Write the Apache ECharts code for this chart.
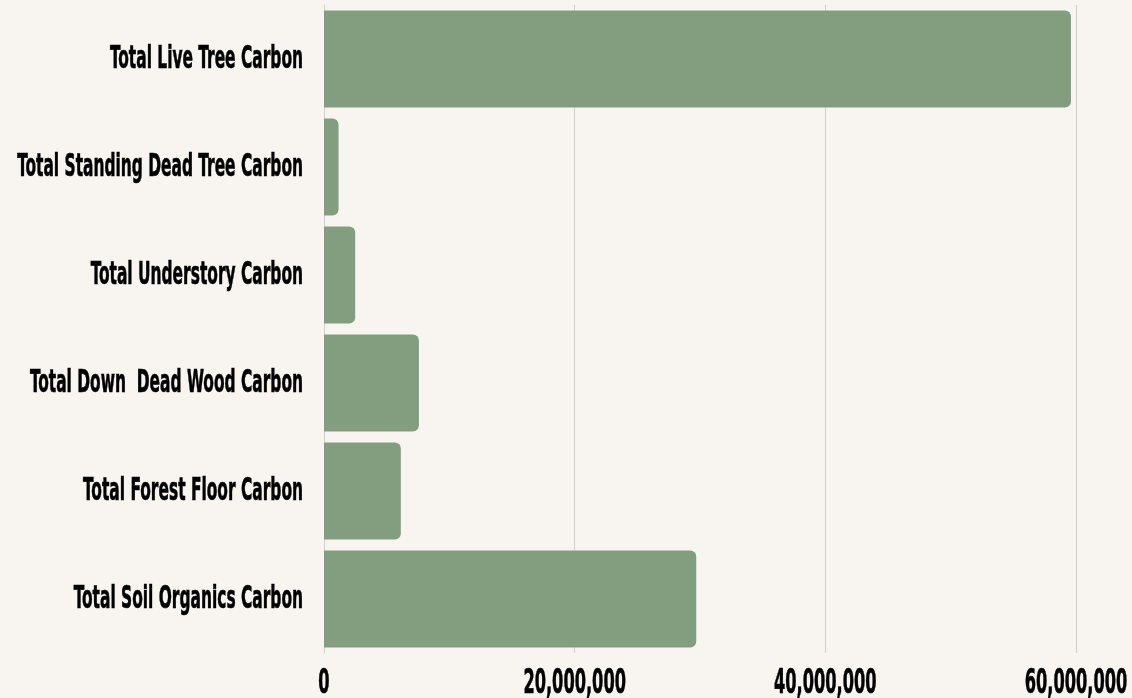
<!DOCTYPE html>
<html><head><meta charset="utf-8">
<script src="https://cdn.jsdelivr.net/npm/echarts@6/dist/echarts.min.js"></script>
<style>html,body{margin:0;padding:0;background:#f8f5f0;}#c{width:1132px;height:698px;}</style>
</head><body><div id="c"></div>
<script>
const categories = ["Total Live Tree Carbon","Total Standing Dead Tree Carbon","Total Understory Carbon","Total Down  Dead Wood Carbon","Total Forest Floor Carbon","Total Soil Organics Carbon"];
const values = [59600000, 1160000, 2490000, 7570000, 6130000, 29700000];
const xTicks = [0, 20000000, 40000000, 60000000];
const FONT = '"DejaVu Sans Condensed", "Liberation Sans Narrow", sans-serif';
const chart = echarts.init(document.getElementById('c'), null, {renderer:'canvas'});
chart.setOption({
  backgroundColor: '#f8f5f0',
  animation: false,
  tooltip: {show: false},
  grid: {left: 324, right: 56, top: 5, bottom: 45, containLabel: false, outerBoundsMode: 'none'},
  xAxis: {
    type: 'value', min: 0, max: 60000000, interval: 20000000,
    axisLine: {show: false}, axisTick: {show: false},
    splitLine: {show: true, lineStyle: {color: '#d3d0cb', width: 1}},
    axisLabel: {show: false}
  },
  yAxis: {
    type: 'category', data: categories, inverse: true,
    axisLine: {show: true, lineStyle: {color: '#d3d0cb', width: 1}},
    axisTick: {show: false},
    axisLabel: {show: false}
  },
  series: [{
    type: 'bar', data: values, barCategoryGap: '10%',
    itemStyle: {color: '#839e7f', borderRadius: [0, 6, 6, 0]}
  }, {
    type: 'custom', clip: false, silent: true, z: 5,
    data: categories.map(c => [0, c]),
    encode: {x: 0, y: 1},
    renderItem: function (params, api) {
      const p = api.coord([0, api.value(1)]);
      return {
        type: 'text', x: p[0] - 21, y: p[1] + 1, scaleX: 0.545,
        style: {text: categories[params.dataIndex], align: 'right', verticalAlign: 'middle',
          fontFamily: FONT, fontWeight: 'bold', fontSize: 31.5, fill: '#000',
          stroke: '#000', lineWidth: 0.6}
      };
    }
  }, {
    type: 'custom', clip: false, silent: true, z: 5,
    data: xTicks.map(v => [v, categories[0]]),
    encode: {x: 0, y: 1},
    renderItem: function (params, api) {
      const cs = params.coordSys;
      const p = api.coord([api.value(0), 0]);
      return {
        type: 'text', x: p[0], y: cs.y + cs.height + 31, scaleX: 0.53,
        style: {text: xTicks[params.dataIndex].toLocaleString('en-US'), align: 'center', verticalAlign: 'middle',
          fontFamily: FONT, fontWeight: 'bold', fontSize: 34, fill: '#000',
          stroke: '#000', lineWidth: 0.6}
      };
    }
  }]
});
</script></body></html>
